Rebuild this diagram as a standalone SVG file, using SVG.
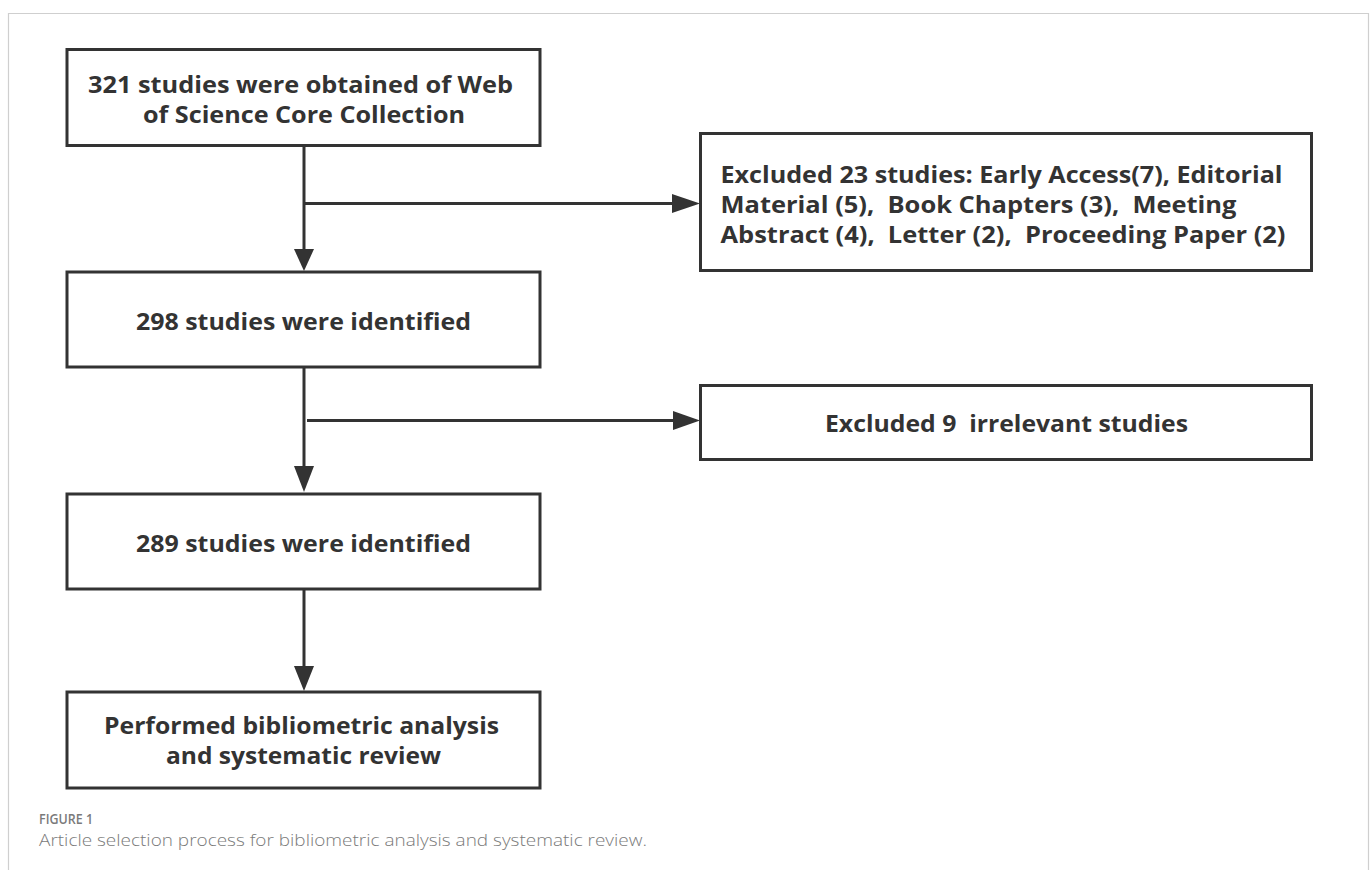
<svg xmlns="http://www.w3.org/2000/svg" width="1372" height="870" viewBox="0 0 1372 870">
<style>
.box{fill:#fff;stroke:#333;stroke-width:3}
.t{font-family:"Open Sans","Noto Sans","Liberation Sans",sans-serif;font-weight:700;font-size:24px;fill:#333;white-space:pre}
.s{font-size:23px}
.ln{stroke:#333;stroke-width:3;fill:none}
.ah{fill:#333}
.cap1{font-family:"Open Sans","Liberation Sans",sans-serif;font-weight:600;font-size:13.5px;fill:#7a7a7a}
.cap2{font-family:"Open Sans","Liberation Sans",sans-serif;font-weight:300;font-size:17px;fill:#7a7a7a}
</style>
<rect x="0" y="0" width="1372" height="870" fill="#fff"/>
<path d="M8.5 880 V13.5 H1368.5 V880" fill="none" stroke="#cfcfcf" stroke-width="1.2"/>
<g id="connectors">
<line class="ln" x1="304" y1="147" x2="304" y2="252"/>
<polygon class="ah" points="294,249 314,249 304,271"/>
<line class="ln" x1="304" y1="203.5" x2="675" y2="203.5"/>
<polygon class="ah" points="672,194 672,213 700,203.5"/>
<line class="ln" x1="304" y1="368" x2="304" y2="468"/>
<polygon class="ah" points="294,466 314,466 304,492"/>
<line class="ln" x1="307" y1="420.5" x2="676" y2="420.5"/>
<polygon class="ah" points="673,411 673,430 700,420.5"/>
<line class="ln" x1="304" y1="590" x2="304" y2="668"/>
<polygon class="ah" points="294,666 314,666 304,691"/>
</g>
<g id="n1">
<rect class="box" x="67" y="49.5" width="473" height="96"/>
<text class="t" x="88" y="92.5" textLength="425" lengthAdjust="spacingAndGlyphs">321 studies were obtained of Web</text>
<text class="t" x="143" y="122.5" textLength="322" lengthAdjust="spacingAndGlyphs">of Science Core Collection</text>
</g>
<g id="n2">
<rect class="box" x="700.5" y="133.5" width="611" height="137"/>
<text class="t s" x="720.5" y="182.5" textLength="562" lengthAdjust="spacingAndGlyphs">Excluded 23 studies: Early Access(7), Editorial</text>
<text class="t s" x="720.5" y="212.5" textLength="516" lengthAdjust="spacingAndGlyphs">Material (5),  Book Chapters (3),  Meeting</text>
<text class="t s" x="720.5" y="242.5" textLength="565" lengthAdjust="spacingAndGlyphs">Abstract (4),  Letter (2),  Proceeding Paper (2)</text>
</g>
<g id="n3">
<rect class="box" x="67" y="272" width="473" height="95"/>
<text class="t" x="136" y="329.5" textLength="335" lengthAdjust="spacingAndGlyphs">298 studies were identified</text>
</g>
<g id="n4">
<rect class="box" x="700.5" y="385.5" width="611" height="74"/>
<text class="t" x="825" y="432" textLength="363" lengthAdjust="spacingAndGlyphs">Excluded 9  irrelevant studies</text>
</g>
<g id="n5">
<rect class="box" x="67" y="494" width="473" height="95"/>
<text class="t" x="136" y="551.5" textLength="335" lengthAdjust="spacingAndGlyphs">289 studies were identified</text>
</g>
<g id="n6">
<rect class="box" x="67" y="692" width="473" height="96"/>
<text class="t" x="104" y="734" textLength="395" lengthAdjust="spacingAndGlyphs">Performed bibliometric analysis</text>
<text class="t" x="166" y="764" textLength="275" lengthAdjust="spacingAndGlyphs">and systematic review</text>
</g>
<text class="cap1" x="39" y="824" textLength="54" lengthAdjust="spacingAndGlyphs">FIGURE 1</text>
<text class="cap2" x="39" y="846" textLength="608" lengthAdjust="spacingAndGlyphs">Article selection process for bibliometric analysis and systematic review.</text>
</svg>
